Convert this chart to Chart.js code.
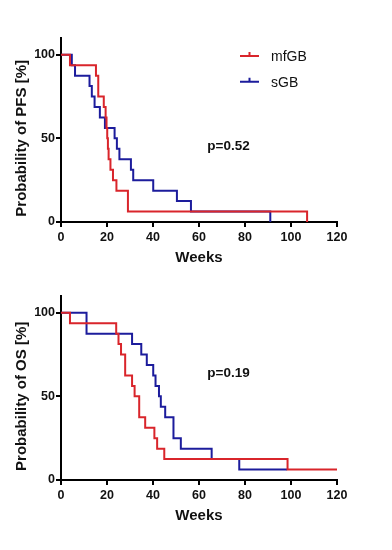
<!DOCTYPE html>
<html>
<head>
<meta charset="utf-8">
<script src="https://cdn.jsdelivr.net/npm/chart.js@4"></script>
<style>
  html, body { margin: 0; padding: 0; background: #fff; }
  #wrap { position: relative; width: 392px; height: 550px; }
  canvas { position: absolute; left: 0; }
</style>
</head>
<body>
<div id="wrap">
  <canvas id="pfs" width="392" height="275" style="top:0"></canvas>
  <canvas id="os" width="392" height="275" style="top:258px"></canvas>
</div>
<script>
// Kaplan-Meier curves: [weeks, survival %]
const groupNames = ['mfGB', 'sGB'];

const pfsRedWeeks = [0, 3.9, 15.2, 16.2, 18.6, 19.4, 19.8, 20.1, 20.4, 20.7, 21.5, 22.6, 24.1, 29.1, 107];
const pfsRedProb  = [100, 93.75, 87.5, 75, 68.75, 62.5, 56.25, 50, 43.75, 37.5, 31.25, 25, 18.75, 6.25, 0];
const pfsBlueWeeks = [0, 4.7, 6.1, 12.4, 13.4, 14.6, 16.9, 19.1, 23.3, 24.3, 25.4, 30.4, 31.4, 40.1, 50.4, 56.5, 91];
const pfsBlueProb  = [100, 93.75, 87.5, 81.25, 75, 68.75, 62.5, 56.25, 50, 43.75, 37.5, 31.25, 25, 18.75, 12.5, 6.25, 0];

const osRedWeeks = [0, 3.9, 24, 25, 26.1, 27.9, 30.9, 32, 34, 36.6, 40.6, 41.8, 44.9, 98.5, 120];
const osRedProb  = [100, 93.75, 87.5, 81.25, 75, 62.5, 56.25, 50, 37.5, 31.25, 25, 18.75, 12.5, 6.25, 6.25];
const osBlueWeeks = [0, 11.1, 30.9, 34.9, 37.3, 40.1, 41.1, 42.6, 43.4, 45.3, 48.9, 52.1, 65.5, 77.5, 98.3];
const osBlueProb  = [100, 87.5, 81.25, 75, 68.75, 62.5, 56.25, 50, 43.75, 37.5, 25, 18.75, 12.5, 6.25, 6.25];

const xTickValues = [0, 20, 40, 60, 80, 100, 120];
const yTickValues = [0, 50, 100];
const pValues = ['p=0.52', 'p=0.19'];
const yTitles = ['Probability of PFS [%]', 'Probability of OS [%]'];
const xTitle = 'Weeks';

const RED = '#d9252b';
const BLUE = '#1c1c9c';
const FONT = '"Liberation Sans", Arial, Helvetica, sans-serif';

function toPoints(xs, ys) {
  return xs.map((x, i) => ({ x: x, y: ys[i] }));
}

// draws y title, p value and (optionally) the legend
const extrasPlugin = {
  id: 'extras',
  afterDraw(chart, args, opts) {
    const ctx = chart.ctx;
    const xs = chart.scales.x, ys = chart.scales.y;
    ctx.save();
    ctx.fillStyle = '#111';
    // y axis title, centred on the 0-100 range
    ctx.font = 'bold 15px ' + FONT;
    ctx.textAlign = 'center';
    ctx.textBaseline = 'middle';
    const midY = (ys.getPixelForValue(0) + ys.getPixelForValue(100)) / 2;
    ctx.translate(22, midY);
    ctx.rotate(-Math.PI / 2);
    ctx.fillText(opts.yTitle, 0, 0);
    ctx.setTransform(1, 0, 0, 1, 0, 0);
    // p value
    ctx.font = 'bold 13.5px ' + FONT;
    ctx.textAlign = 'left';
    ctx.fillText(opts.pText, xs.getPixelForValue(63.6), ys.getPixelForValue(opts.pY));
    // legend
    if (opts.legend) {
      ctx.font = '14px ' + FONT;
      chart.data.datasets.forEach((ds, i) => {
        const y = 56 + i * 25.7;
        ctx.strokeStyle = ds.borderColor;
        ctx.lineWidth = 2;
        ctx.beginPath();
        ctx.moveTo(240, y); ctx.lineTo(259, y);
        ctx.moveTo(249.5, y); ctx.lineTo(249.5, y - 4);
        ctx.stroke();
        ctx.fillStyle = '#111';
        ctx.fillText(ds.label, 271, y + 1);
      });
    }
    ctx.restore();
  }
};

function renderKM(canvasId, red, blue, extras) {
  const canvas = document.getElementById(canvasId);
  return new Chart(canvas, {
    type: 'line',
    data: {
      datasets: [
        { label: groupNames[0], data: red, borderColor: RED, borderWidth: 2, stepped: true, pointRadius: 0, fill: false },
        { label: groupNames[1], data: blue, borderColor: BLUE, borderWidth: 2, stepped: true, pointRadius: 0, fill: false }
      ]
    },
    options: {
      responsive: false,
      animation: false,
      devicePixelRatio: 1,
      layout: { padding: { top: 38, right: 55, left: 0, bottom: 0 } },
      plugins: {
        legend: { display: false },
        tooltip: { enabled: false },
        extras: extras
      },
      scales: {
        x: {
          type: 'linear',
          min: 0,
          max: 120,
          afterBuildTicks: s => { s.ticks = xTickValues.map(v => ({ value: v })); },
          afterFit: s => { s.height = 53; },
          border: { display: true, color: '#000', width: 2 },
          grid: { drawOnChartArea: false, drawTicks: true, tickLength: 5, color: '#000', lineWidth: 2 },
          ticks: { color: '#111', padding: 3, maxRotation: 0, font: { family: FONT, size: 12.5, weight: 'bold' } },
          title: { display: true, text: xTitle, color: '#111', padding: { top: 0, bottom: 8 }, font: { family: FONT, size: 15, weight: 'bold' } }
        },
        y: {
          min: 0,
          max: 110,
          afterBuildTicks: s => { s.ticks = yTickValues.map(v => ({ value: v })); },
          afterFit: s => { s.width = 61; },
          border: { display: true, color: '#000', width: 2 },
          grid: { drawOnChartArea: false, drawTicks: true, tickLength: 5, color: '#000', lineWidth: 2 },
          ticks: { color: '#111', padding: 1, font: { family: FONT, size: 12.5, weight: 'bold' } }
        }
      }
    },
    plugins: [extrasPlugin]
  });
}

renderKM('pfs', toPoints(pfsRedWeeks, pfsRedProb), toPoints(pfsBlueWeeks, pfsBlueProb),
  { yTitle: yTitles[0], pText: pValues[0], pY: 45.4, legend: true });
renderKM('os', toPoints(osRedWeeks, osRedProb), toPoints(osBlueWeeks, osBlueProb),
  { yTitle: yTitles[1], pText: pValues[1], pY: 63.8, legend: false });
</script>
</body>
</html>
